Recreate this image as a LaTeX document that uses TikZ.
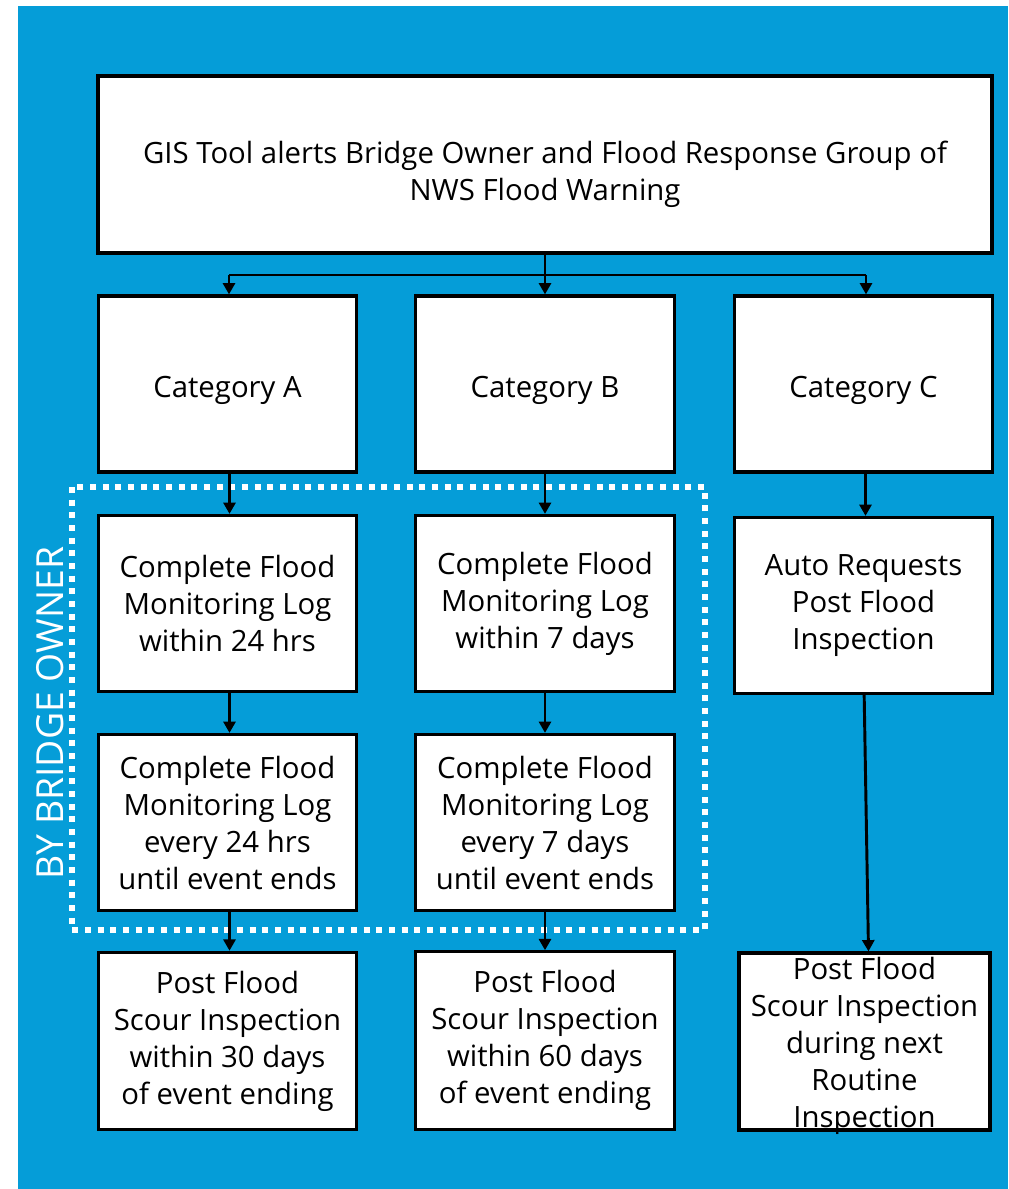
\documentclass[tikz,border=0pt]{standalone}
\usepackage{fontspec}
\setmainfont{Open Sans}
\usetikzlibrary{arrows.meta}
\definecolor{panelblue}{RGB}{5,157,216}
\begin{document}
\begin{tikzpicture}[x=0.75pt,y=-0.75pt,
  label text/.style={align=center, font=\fontsize{22}{27.75}\selectfont},
  box/.style={draw=black, fill=white, line width=2.4pt, inner sep=0pt,
    label text, minimum height=132pt},
  widebox/.style={box, minimum width=670.5pt, minimum height=132.75pt},
  colbox/.style={box, minimum width=194pt},
  catbox/.style={colbox, text height=25pt},
  flow/.style={draw=black, line width=2.2pt,
    -{Triangle[width=9pt,length=8.5pt]}},
  wire/.style={draw=black, line width=2.2pt}]
\useasboundingbox (0,0) rectangle (1008,1189);
\fill[panelblue] (18,6) rectangle (1008,1189);

% alert box
\node[widebox, text height=60pt] (alert) at (545,164.5)
  {GIS Tool alerts Bridge Owner and Flood Response Group of\\NWS Flood Warning};

% categories
\node[catbox] (catA) at (227.5,384) {Category A};
\node[catbox] (catB) at (545,384) {Category B};
\node[catbox] (catC) at (863.5,384) {Category C};

% second row
\node[colbox] (logA) at (227.5,603.5) {Complete Flood\\Monitoring Log\\within 24 hrs};
\node[colbox] (logB) at (545,603.5) {Complete Flood\\Monitoring Log\\within 7 days};
\node[colbox] (autoC) at (863.5,605.5) {Auto Requests\\Post Flood\\Inspection};

% third row
\node[colbox] (repA) at (227.5,822.5) {Complete Flood\\Monitoring Log\\every 24 hrs\\until event ends};
\node[colbox] (repB) at (545,822.5) {Complete Flood\\Monitoring Log\\every 7 days\\until event ends};

% inspections
\node[colbox, minimum height=133pt] (inspA) at (227.5,1041) {Post Flood\\Scour Inspection\\within 30 days\\of event ending};
\node[colbox, minimum height=133pt] (inspB) at (545,1040.5) {Post Flood\\Scour Inspection\\within 60 days\\of event ending};
\node[box, minimum width=188.25pt, minimum height=132.75pt] (inspC) at (864.5,1041.5) {};
\node[label text, yshift=-3.5pt] (inspCtext) at (inspC.center)
  {Post Flood\\Scour Inspection\\during next\\Routine\\Inspection};

% bridge owner responsibility frame
\draw[white, line width=3.8pt, dash pattern=on 4.5pt off 5pt]
  (72,487) rectangle (705,930);
\node[white, rotate=90, font=\fontsize{28}{32}\selectfont] (owner) at (50,713) {BY BRIDGE OWNER};

% distribution from the alert
\coordinate (busL) at (229,275);
\coordinate (busM) at (545,275);
\coordinate (busR) at (866,275);
\draw[wire] (alert.south) -- (busM);
\draw[wire] (busL) -- (busR);
\draw[flow] (busL) -- (busL |- catA.north);
\draw[flow] (busM) -- (catB.north);
\draw[flow] (busR) -- (busR |- catC.north);

% column flows
\draw[flow] ([xshift=1.5pt]catA.south) -- ([xshift=1.5pt]logA.north);
\draw[flow] (catB.south) -- (logB.north);
\draw[flow] ([xshift=1.5pt]catC.south) -- ([xshift=1.5pt]autoC.north);
\draw[flow] ([xshift=1.5pt]logA.south) -- ([xshift=1.5pt]repA.north);
\draw[flow] (logB.south) -- (logB.south |- repB.north);
\draw[flow] ([xshift=1.5pt]repA.south) -- ([xshift=1.5pt]inspA.north);
\draw[flow] (repB.south) -- (inspB.north);
\draw[flow] ([xshift=0.5pt]autoC.south) -- ([xshift=3pt]inspC.north);
\end{tikzpicture}
\end{document}
